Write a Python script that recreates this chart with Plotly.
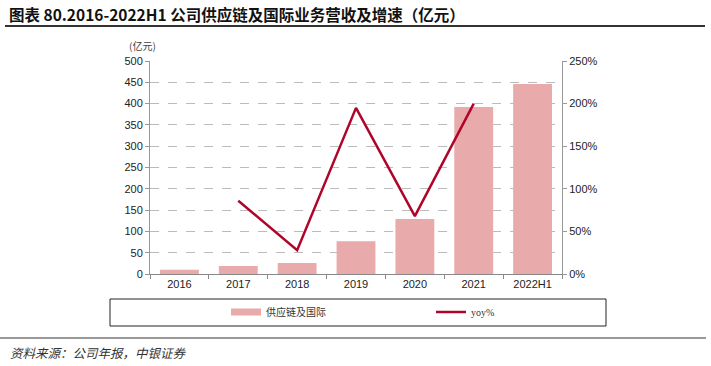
import plotly.graph_objects as go

categories = ["2016", "2017", "2018", "2019", "2020", "2021", "2022H1"]
revenue = [10, 19, 26, 77, 129, 392, 446]
yoy = [None, 86, 28, 195, 68, 200, None]
left_ticks = [0, 50, 100, 150, 200, 250, 300, 350, 400, 450, 500]
right_ticks = [0, 50, 100, 150, 200, 250]
right_labels = [f"{v}%" for v in right_ticks]

bar_color = "#E8AAAA"
line_color = "#B0052A"
tick_font = dict(family="Liberation Sans, Arial", size=11, color="#222")

fig = go.Figure()
fig.add_trace(go.Bar(x=categories, y=revenue, name="供应链及国际", showlegend=False,
                     marker=dict(color=bar_color, line=dict(width=0)), yaxis="y"))
# legend proxy for the bar series (wide short swatch like the reference)
fig.add_trace(go.Scatter(x=[None], y=[None], name="供应链及国际", mode="lines",
                         line=dict(color=bar_color, width=7), yaxis="y"))
fig.add_trace(go.Scatter(x=categories, y=yoy, name="yoy%", mode="lines",
                         line=dict(color=line_color, width=2.5), yaxis="y2",
                         connectgaps=False))

fig.update_layout(
    width=711, height=366,
    margin=dict(l=150, r=149, t=61, b=92, autoexpand=False),
    paper_bgcolor="white", plot_bgcolor="white",
    bargap=0.34,
    showlegend=True,
    legend=dict(orientation="h", x=226/711, xref="container", y=(366 - 312) / 366, yref="container",
                yanchor="middle", xanchor="left", entrywidth=160, entrywidthmode="pixels",
                font=dict(family="Liberation Serif, Noto Sans CJK SC", size=10, color="#333"),
                itemwidth=30, bgcolor="rgba(0,0,0,0)"),
    xaxis=dict(type="category", showline=True, linecolor="#888", linewidth=1,
               ticks="outside", tickson="boundaries", ticklen=4, tickcolor="#888",
               tickfont=tick_font, showgrid=False, zeroline=False),
    yaxis=dict(range=[0, 500], tickvals=left_ticks, showline=True, linecolor="#999",
               ticks="outside", ticklen=4, tickcolor="#999", tickfont=tick_font,
               showgrid=True, gridcolor="#BBBBBB", griddash="dash", gridwidth=1,
               zeroline=False),
    yaxis2=dict(range=[0, 250], tickvals=right_ticks, ticktext=right_labels,
                overlaying="y", side="right", showline=True, linecolor="#999",
                ticks="outside", ticklen=4, tickcolor="#999", tickfont=tick_font,
                showgrid=False, zeroline=False),
)


def px_x(p):
    return (p - 150) / 412


def px_y(p):
    return (274 - p) / 213


fig.add_annotation(text="<b>图表 80.2016-2022H1 公司供应链及国际业务营收及增速（亿元）</b>",
                   x=px_x(7), y=px_y(14), xref="paper", yref="paper", showarrow=False,
                   xanchor="left", yanchor="middle",
                   font=dict(family="Noto Sans CJK SC", size=15.5, color="#111"))
fig.add_annotation(text="(亿元)", x=px_x(142), y=px_y(45), xref="paper", yref="paper",
                   showarrow=False, xanchor="center", yanchor="middle",
                   font=dict(family="Noto Sans CJK SC", size=10, color="#444"))
fig.add_annotation(text="<i>资料来源：公司年报，中银证券</i>", x=px_x(8), y=px_y(352),
                   xref="paper", yref="paper", showarrow=False, xanchor="left", yanchor="middle",
                   font=dict(family="Noto Sans CJK SC", size=12.5, color="#333"))

# title underline
fig.add_shape(type="line", xref="paper", yref="paper", x0=px_x(5), x1=px_x(705),
              y0=px_y(26), y1=px_y(26), line=dict(color="#333", width=2))
# legend box
fig.add_shape(type="rect", xref="paper", yref="paper", x0=px_x(110), x1=px_x(606),
              y0=px_y(299), y1=px_y(326), line=dict(color="#222", width=1))
# footer line
fig.add_shape(type="line", xref="paper", yref="paper", x0=px_x(0), x1=px_x(706),
              y0=px_y(338), y1=px_y(338), line=dict(color="#777", width=1.5))

fig.write_html("out.html", config={"displayModeBar": False},
               post_script="document.body.style.margin='0';")
